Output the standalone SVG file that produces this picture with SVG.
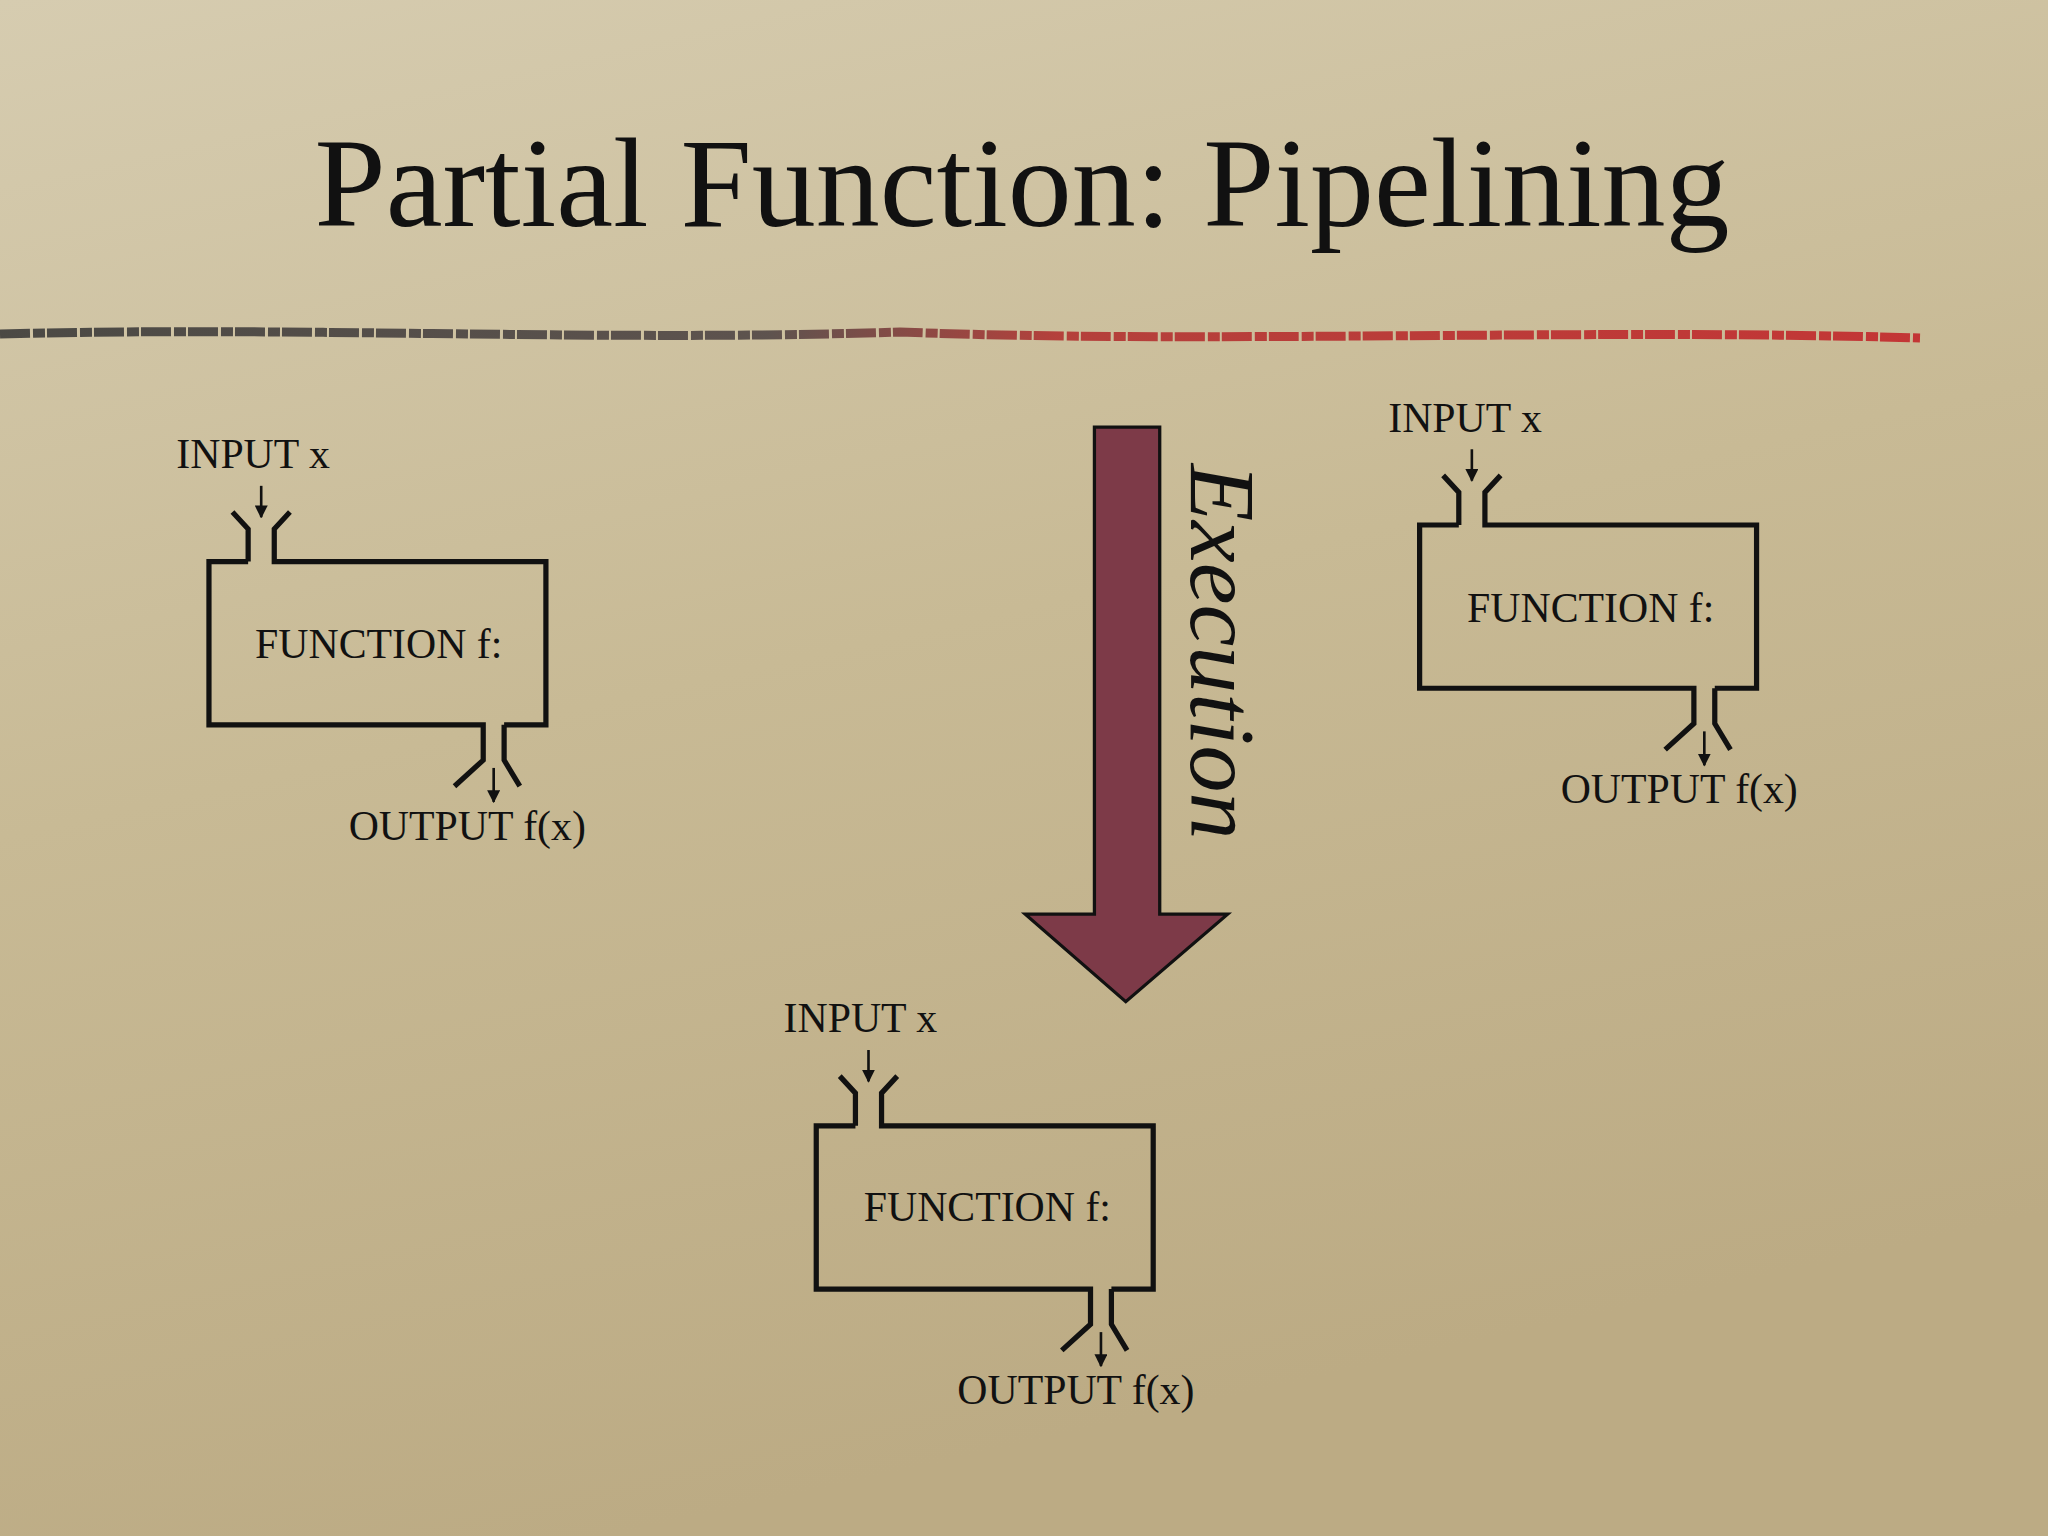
<svg xmlns="http://www.w3.org/2000/svg" width="2048" height="1536" viewBox="0 0 2048 1536">
<defs>
<linearGradient id="bg" x1="0" y1="0" x2="0.3" y2="1"><stop offset="0" stop-color="#d6ccb0"/><stop offset="0.5" stop-color="#c8ba95"/><stop offset="1" stop-color="#bcab84"/></linearGradient>
<linearGradient id="ln" x1="0" x2="1"><stop offset="0" stop-color="#333"/><stop offset="0.4" stop-color="#4a4040"/><stop offset="0.55" stop-color="#b02a2a"/><stop offset="1" stop-color="#c21e24"/></linearGradient>
<marker id="ah" viewBox="0 0 10 10" refX="9" refY="5" markerWidth="10" markerHeight="10" markerUnits="userSpaceOnUse" orient="auto"><path d="M0,0 L10,5 L0,10 z" fill="#111"/></marker>
<g id="fbox">
<path d="M30,0 H0 V125 H210 V152 L188,172 M226,125 V152 L238,172 M226,125 H258 V0 H50 V-25 L62,-38 M30,0 V-25 L18,-38" fill="none" stroke="#111" stroke-width="4"/>
<line x1="40" y1="-58" x2="40" y2="-34" stroke="#111" stroke-width="2" marker-end="url(#ah)"/>
<line x1="218" y1="158" x2="218" y2="184" stroke="#111" stroke-width="2" marker-end="url(#ah)"/>
</g>
</defs>
<style>.t{font-family:"Liberation Serif",serif;fill:#111}.l{font-size:32px}</style>
<rect width="2048" height="1536" fill="url(#bg)"/>
<text class="t" x="1022" y="226" font-size="128" text-anchor="middle">Partial Function: Pipelining</text>
<path d="M0,334 C300,326 600,342 900,332 C1200,344 1600,328 1920,338" fill="none" stroke="url(#ln)" stroke-width="9" stroke-dasharray="30 3 12 2" opacity="0.85"/>
<g transform="scale(1.306)">
<g id="box1"><use href="#fbox" x="160" y="430"/>
<text class="t l" x="135" y="358">INPUT x</text><text class="t l" x="290" y="504" text-anchor="middle">FUNCTION f:</text><text class="t l" x="267" y="643">OUTPUT f(x)</text></g>
<g id="box2"><use href="#fbox" x="1087" y="402"/>
<text class="t l" x="1063" y="331">INPUT x</text><text class="t l" x="1218" y="476" text-anchor="middle">FUNCTION f:</text><text class="t l" x="1195" y="615">OUTPUT f(x)</text></g>
<g id="box3"><use href="#fbox" x="625" y="862"/>
<text class="t l" x="600" y="790">INPUT x</text><text class="t l" x="756" y="935" text-anchor="middle">FUNCTION f:</text><text class="t l" x="733" y="1075">OUTPUT f(x)</text></g>
<g id="execution">
<path d="M838,327 H888 V700 H940 L862,767 L785,700 H838 Z" fill="#7d3a48" stroke="#111" stroke-width="2.5"/>
<text class="t" transform="translate(912,355) rotate(90)" font-size="72" font-style="italic">Execution</text>
</g>
</g>
</svg>
